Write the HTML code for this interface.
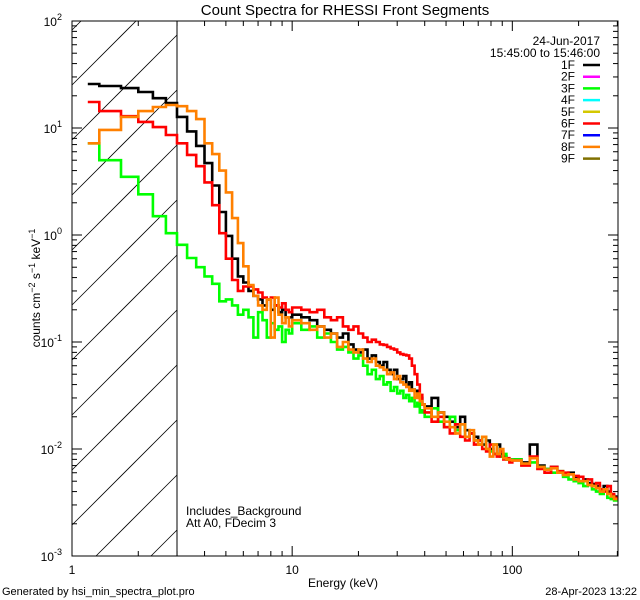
<!DOCTYPE html>
<html><head><meta charset="utf-8"><style>
html,body{margin:0;padding:0;background:#fff;overflow:hidden;width:640px;height:600px}
svg{display:block;font-family:"Liberation Sans",sans-serif}
</style></head><body>
<svg id="c" width="640" height="600" xmlns="http://www.w3.org/2000/svg">
<rect width="640" height="600" fill="#fff"/>
<text x="345" y="15" font-size="15" text-anchor="middle">Count Spectra for RHESSI Front Segments</text>
<defs><clipPath id="pc"><rect x="72" y="21" width="546" height="535"/></clipPath></defs>
<g id="hatch" stroke="#000" stroke-width="0.8"></g>
<line x1="177" y1="21" x2="177" y2="556" stroke="#000" stroke-width="1"/>
<g id="series" clip-path="url(#pc)"></g>
<rect x="72" y="21" width="546" height="535" fill="none" stroke="#000" stroke-width="1"/>
<g id="axes" stroke="#000" stroke-width="1"></g>
<g id="labels" font-size="12"></g>
<text transform="translate(40,288) rotate(-90)" font-size="12" text-anchor="middle">counts cm<tspan dy="-5" font-size="9">−2</tspan><tspan dy="5"> s</tspan><tspan dy="-5" font-size="9">−1</tspan><tspan dy="5"> keV</tspan><tspan dy="-5" font-size="9">−1</tspan></text>
<text x="343" y="587" font-size="12" text-anchor="middle">Energy (keV)</text>
<text x="2" y="595" font-size="11">Generated by hsi_min_spectra_plot.pro</text>
<text x="637" y="595" font-size="11" text-anchor="end">28-Apr-2023 13:22</text>
<text x="186" y="515" font-size="12">Includes_Background</text>
<text x="186" y="527" font-size="12">Att A0, FDecim 3</text>
<text x="600" y="45" font-size="12" text-anchor="end">24-Jun-2017</text>
<text x="600" y="57" font-size="12" text-anchor="end">15:45:00 to 15:46:00</text>
<g id="legend" font-size="12"></g>
</svg>
<script>
const binStarts=[1.18,1.33,1.67,2,2.33,2.67];
const segStart=[3,10,40,100];
const segStep=[1/3,1,3,10];
const segCount=[21,30,20,20];
const seriesNames=['1F','3F','6F','8F'];
const black=[25.8,24.7,23.6,21.7,19,17.1,
12.7,9.3,6.8,4.7,2.9,1.64,0.98,0.60,0.41,0.36,0.30,0.27,0.25,0.22,0.25,0.20,0.22,0.19,0.20,0.17,0.17,
0.18,0.17,0.16,0.14,0.13,0.12,0.11,0.12,0.095,0.085,0.08,0.085,0.07,0.075,0.065,0.06,0.065,0.055,0.05,0.055,0.045,0.045,0.048,0.04,0.042,0.036,0.035,0.032,0.03,0.026,
0.025,0.03,0.022,0.02,0.018,0.016,0.02,0.015,0.014,0.013,0.012,0.011,0.012,0.010,0.009,0.011,0.009,0.0085,0.008,0.0078,
0.008,0.0075,0.011,0.007,0.0065,0.0068,0.006,0.0058,0.006,0.0055,0.005,0.0052,0.0048,0.0047,0.0045,0.0042,0.0045,0.004,0.0037,0.0036];
const green=[7.2,5.0,3.5,2.4,1.5,1.04,
0.81,0.61,0.5,0.41,0.35,0.24,0.25,0.22,0.18,0.2,0.17,0.11,0.19,0.16,0.11,0.15,0.13,0.14,0.1,0.13,0.12,
0.15,0.13,0.14,0.11,0.12,0.1,0.085,0.09,0.08,0.07,0.075,0.06,0.05,0.055,0.045,0.048,0.04,0.042,0.035,0.038,0.033,0.035,0.03,0.032,0.028,0.03,0.025,0.027,0.022,0.023,
0.02,0.024,0.018,0.016,0.02,0.015,0.017,0.013,0.014,0.012,0.011,0.013,0.01,0.0095,0.011,0.009,0.0085,0.009,0.008,0.0078,
0.008,0.0072,0.0075,0.0068,0.0065,0.006,0.0062,0.0055,0.0052,0.005,0.0048,0.0045,0.0046,0.0042,0.004,0.0038,0.0042,0.0035,0.0034,0.0033];
const red=[17.5,14.4,12.9,11.4,10.2,8.6,
7.2,5.6,4.4,3.1,1.9,1.04,0.60,0.38,0.30,0.33,0.33,0.31,0.29,0.26,0.25,0.26,0.22,0.21,0.23,0.2,0.19,
0.21,0.2,0.19,0.2,0.17,0.16,0.17,0.14,0.13,0.14,0.12,0.11,0.1,0.105,0.1,0.095,0.094,0.09,0.087,0.085,0.08,0.077,0.076,0.075,0.07,0.06,0.05,0.04,0.032,0.026,
0.022,0.018,0.02,0.016,0.014,0.017,0.013,0.012,0.014,0.011,0.012,0.010,0.0095,0.011,0.009,0.0085,0.0095,0.008,0.0082,0.0075,
0.0078,0.007,0.0085,0.0065,0.006,0.0068,0.0062,0.006,0.0058,0.0056,0.0055,0.005,0.0052,0.0045,0.0048,0.0042,0.004,0.0045,0.0038,0.0035];
const orange=[7.2,9.6,12.7,14.4,15.7,16.4,
16,14.4,12.1,7.2,5.7,4.0,2.5,1.44,0.84,0.51,0.34,0.27,0.22,0.2,0.25,0.11,0.26,0.18,0.15,0.17,0.14,
0.16,0.15,0.13,0.14,0.11,0.12,0.09,0.1,0.085,0.08,0.085,0.07,0.065,0.07,0.06,0.058,0.055,0.05,0.052,0.045,0.048,0.042,0.04,0.038,0.035,0.036,0.03,0.033,0.028,0.026,
0.024,0.02,0.022,0.018,0.016,0.014,0.017,0.013,0.015,0.012,0.011,0.013,0.01,0.0085,0.011,0.009,0.01,0.0082,0.008,0.0079,
0.0078,0.0073,0.0082,0.0068,0.0064,0.0066,0.006,0.0057,0.0058,0.0052,0.005,0.005,0.0046,0.0045,0.0043,0.004,0.0042,0.0038,0.0036,0.0034];
const legendLabels=['1F','2F','3F','4F','5F','6F','7F','8F','9F'];
const legendColors=['#000','#ff00ff','#00ff00','#00ffff','#d4c800','#ff0000','#0000ff','#ff8000','#807000'];
const yTickLabels=['-3','-2','-1','0','1','2'];
const xTickLabels=['1','10','100'];

const NS='http://www.w3.org/2000/svg';
const X0=72,X1=618,Y0=556,Y1=21,LXMIN=0,LXMAX=Math.log10(302),LYMIN=-3,LYMAX=2;
function xs(e){return X0+(Math.log10(e)-LXMIN)/(LXMAX-LXMIN)*(X1-X0);}
function ys(v){return Y0-(Math.log10(v)-LYMIN)/(LYMAX-LYMIN)*(Y0-Y1);}
function mk(t,a,p){const e=document.createElementNS(NS,t);for(const k in a)e.setAttribute(k,a[k]);p.appendChild(e);return e;}
const edges=binStarts.slice();
for(let s=0;s<segStart.length;s++){for(let i=0;i<segCount[s];i++)edges.push(segStart[s]+i*segStep[s]);}
edges.push(segStart[3]+segCount[3]*segStep[3]);
// hatch: lines x+y=c clipped to [72,177]x[21,556]
const hg=document.getElementById('hatch');
const HX0=72,HX1=177,HY0=21,HY1=556;
for(let k=-2;k<16;k++){const c=72+85+k*55;
let xa=Math.max(HX0,c-HY1),xb=Math.min(HX1,c-HY0);
if(xb<=xa)continue;
const l=mk('line',{x1:xa,y1:c-xa,x2:xb,y2:c-xb},hg);

}
const sg=document.getElementById('series');
const series=[[black,'#000'],[green,'#00ff00'],[red,'#ff0000'],[orange,'#ff8000']];
series.forEach((s,si)=>{const vals=s[0];let d='';
for(let i=0;i<vals.length&&i+1<edges.length;i++){const xa=xs(edges[i]),xb=xs(edges[i+1]),y=ys(vals[i]);
d+=(i===0?'M':'L')+xa.toFixed(1)+','+y.toFixed(1)+'L'+xb.toFixed(1)+','+y.toFixed(1);}
const p=mk('path',{d:d,fill:'none',stroke:s[1],'stroke-width':2.6,'stroke-linejoin':'miter'},sg);

});
const ag=document.getElementById('axes');
for(let dec=0;dec<3;dec++)for(let m=1;m<10;m++){const e=m*Math.pow(10,dec);if(e>302)continue;const x=xs(e);const L=m===1?10:5;
if(x<=X0+0.5)continue;
const t1=mk('line',{x1:x,y1:Y0,x2:x,y2:Y0-L},ag);
const t2=mk('line',{x1:x,y1:Y1,x2:x,y2:Y1+L},ag);}
for(let dec=-3;dec<2;dec++)for(let m=1;m<10;m++){const v=m*Math.pow(10,dec);const y=ys(v);const L=m===1?10:5;
if(y>=Y0-0.5)continue;
const t1=mk('line',{x1:X0,y1:y,x2:X0+L,y2:y},ag);
const t2=mk('line',{x1:X1,y1:y,x2:X1-L,y2:y},ag);}
const lg=document.getElementById('labels');
yTickLabels.forEach(s=>{const y=ys(Math.pow(10,+s));const t=mk('text',{x:62,y:y+5,'text-anchor':'end'},lg);

t.textContent='10';const sp=mk('tspan',{dy:-6,'font-size':9},t);sp.textContent=s;});
xTickLabels.forEach(s=>{const x=xs(+s);const t=mk('text',{x:x,y:574,'text-anchor':'middle'},lg);
t.textContent=s;});
const leg=document.getElementById('legend');
legendLabels.forEach((s,i)=>{const y=65+i*11.7;
const t=mk('text',{x:575,y:y+4,'text-anchor':'end'},leg);t.textContent=s;

const l=mk('line',{x1:583,y1:y,x2:600,y2:y,stroke:legendColors[i],'stroke-width':2.5},leg);
});
</script>
</body></html>
